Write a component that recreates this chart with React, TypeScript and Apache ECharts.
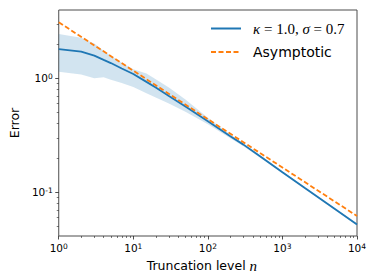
import React, { useEffect, useRef } from "react";
import * as echarts from "echarts";

// Truncation level n (x) and error values (y)
const truncationLevels = [1, 2, 3, 4, 5, 7, 10, 15, 20, 30, 50, 100, 200, 300, 500, 1000, 2000, 5000, 10000];
const meanError = [1.8, 1.71, 1.58, 1.45, 1.36, 1.22, 1.09, 0.93, 0.83, 0.7, 0.565, 0.42, 0.31, 0.262, 0.207, 0.15, 0.109, 0.0718, 0.0523];
const upperError = [2.45, 2.27, 2.02, 1.74, 1.58, 1.37, 1.2, 1.1, 0.98, 0.83, 0.65, 0.45, 0.322, 0.27, 0.212, 0.153, 0.111, 0.073, 0.0532];
const lowerError = [1.14, 1.08, 1.0, 1.02, 0.97, 0.91, 0.84, 0.74, 0.68, 0.6, 0.51, 0.395, 0.298, 0.254, 0.202, 0.147, 0.107, 0.0705, 0.0514];
const asymptoticLevels = [1, 10, 100, 1000, 10000];
const asymptoticError = [3.1, 1.166, 0.438, 0.165, 0.062];

// axis ranges and tick labels (powers of ten)
const xRange = [1, 10000];
const yRange = [0.0414, 3.97];
const xTickExponents = [0, 1, 2, 3, 4];
const yTickExponents = [-1, 0];
const seriesNames = ["kappa", "Asymptotic"];

const lg = (v: number) => Math.log10(v);

function minorTicks(lo: number, hi: number): number[] {
  const out: number[] = [];
  for (let d = Math.floor(lo) - 1; d <= Math.ceil(hi); d++) {
    for (let k = 2; k <= 9; k++) {
      const v = d + Math.log10(k);
      if (v >= lo - 1e-9 && v <= hi + 1e-9) out.push(v);
    }
  }
  return out;
}

export default function App() {
  const ref = useRef<HTMLDivElement>(null);
  useEffect(() => {
    document.body.style.margin = "0";
    if (!ref.current) return;
    const chart = echarts.init(ref.current, undefined, { renderer: "svg" });

    const xMin = lg(xRange[0]);
    const xMax = lg(xRange[1]);
    const yMin = lg(yRange[0]);
    const yMax = lg(yRange[1]);

    const font = "DejaVu Sans";
    const supLabel = (v: number) => `{b|10}{s|${Math.round(v)}}`;
    const labelRich = {
      b: { fontSize: 10.5, lineHeight: 12, fontFamily: font, color: "#000" },
      s: { fontSize: 7.5, lineHeight: 3.6, verticalAlign: "top", fontFamily: font, color: "#000" },
    };

    const bandPts = truncationLevels.map((n, i) => [lg(n), lg(lowerError[i]), lg(upperError[i])]);
    const meanPts = truncationLevels.map((n, i) => [lg(n), lg(meanError[i])]);
    const asymPts = asymptoticLevels.map((n, i) => [lg(n), lg(asymptoticError[i])]);

    const grid = { left: 52, right: 17, top: 10, bottom: 44, show: true, borderColor: "#4d4d4d", borderWidth: 1, backgroundColor: "transparent" };

    const legendBase = {
      orient: "vertical",
      left: 210,
      itemWidth: 30,
      itemHeight: 14,
      padding: 0,
      itemGap: 0,
      itemStyle: { opacity: 0 },
    };

    const hiddenLine = { show: false, onZero: false };

    chart.setOption({
      animation: false,
      grid,
      legend: [
        {
          ...legendBase,
          top: 21,
          data: [seriesNames[0]],
          formatter: () => "{i|κ}{r| = 1.0, }{i|σ}{r| = 0.7}",
          textStyle: {
            padding: [0, 0, 0, 7],
            rich: {
              i: { fontFamily: "Liberation Serif", fontStyle: "italic", fontSize: 15, lineHeight: 16, color: "#000" },
              r: { fontFamily: "Liberation Serif", fontSize: 15, lineHeight: 16, color: "#000" },
            },
          },
        },
        {
          ...legendBase,
          top: 44,
          data: [seriesNames[1]],
          textStyle: { padding: [0, 0, 0, 7], fontFamily: font, fontSize: 14, lineHeight: 16, color: "#000" },
        },
      ],
      xAxis: [
        {
          type: "value",
          min: xMin,
          max: xMax,
          name: "Truncation level {n|n}",
          nameLocation: "middle",
          nameGap: 22,
          nameTextStyle: {
            fontFamily: font,
            fontSize: 12.5,
            color: "#000",
            padding: [0, 12, 0, 0],
            rich: { n: { fontFamily: "Liberation Serif", fontStyle: "italic", fontSize: 15, color: "#000" } },
          },
          axisLine: hiddenLine,
          splitLine: { show: false },
          axisTick: { show: true, length: 3.5, customValues: xTickExponents, lineStyle: { color: "#222", width: 0.8 } },
          axisLabel: { customValues: xTickExponents, margin: 6, formatter: supLabel, rich: labelRich },
        },
        {
          type: "value",
          min: xMin,
          max: xMax,
          position: "bottom",
          axisLine: hiddenLine,
          splitLine: { show: false },
          axisLabel: { show: false },
          axisTick: { show: true, length: 2, customValues: minorTicks(xMin, xMax), lineStyle: { color: "#222", width: 0.6 } },
        },
      ],
      yAxis: [
        {
          type: "value",
          min: yMin,
          max: yMax,
          name: "Error",
          nameLocation: "middle",
          nameGap: 31,
          nameTextStyle: { fontFamily: font, fontSize: 12.5, color: "#000" },
          axisLine: hiddenLine,
          splitLine: { show: false },
          axisTick: { show: true, length: 3.5, customValues: yTickExponents, lineStyle: { color: "#222", width: 0.8 } },
          axisLabel: { customValues: yTickExponents, margin: 6, formatter: supLabel, rich: labelRich },
        },
        {
          type: "value",
          min: yMin,
          max: yMax,
          position: "left",
          axisLine: hiddenLine,
          splitLine: { show: false },
          axisLabel: { show: false },
          axisTick: { show: true, length: 2, customValues: minorTicks(yMin, yMax), lineStyle: { color: "#222", width: 0.6 } },
        },
      ],
      series: [
        {
          name: "band",
          type: "custom",
          data: bandPts,
          encode: { x: 0, y: [1, 2] },
          silent: true,
          z: 1,
          renderItem: (params: any, api: any) => {
            if (params.dataIndex !== 0) return null;
            const upper = bandPts.map((p) => api.coord([p[0], p[2]]));
            const lower = bandPts.map((p) => api.coord([p[0], p[1]])).reverse();
            return {
              type: "polygon",
              shape: { points: upper.concat(lower) },
              style: { fill: "rgba(31,119,180,0.2)" },
            };
          },
        },
        {
          name: seriesNames[0],
          type: "line",
          data: meanPts,
          symbol: "none",
          lineStyle: { color: "#1f77b4", width: 1.8 },
          itemStyle: { color: "#1f77b4" },
          z: 2,
        },
        {
          name: seriesNames[1],
          type: "line",
          data: asymPts,
          symbol: "none",
          lineStyle: { color: "#ff7f0e", width: 1.8, type: [5, 2.5] },
          itemStyle: { color: "#ff7f0e" },
          z: 3,
        },
      ],
    });
    return () => chart.dispose();
  }, []);
  return <div ref={ref} style={{ width: 374, height: 280 }} />;
}
